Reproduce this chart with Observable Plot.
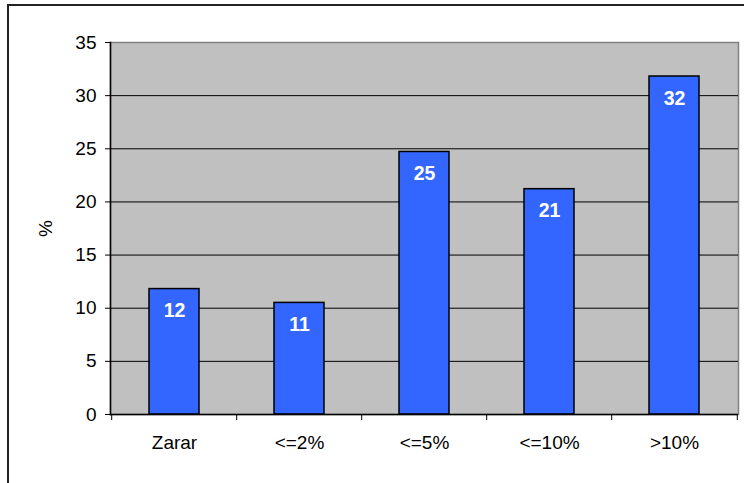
<!DOCTYPE html>
<html>
<head>
<meta charset="utf-8">
<script src="https://cdn.jsdelivr.net/npm/d3@7"></script>
<script src="https://cdn.jsdelivr.net/npm/@observablehq/plot@0.6"></script>
<style>
  html, body { margin: 0; padding: 0; background: #fff; }
  #wrap { position: relative; width: 744px; height: 483px; overflow: hidden; }
  #border { position: absolute; left: 7px; top: 4px; width: 800px; height: 600px; border: 2px solid #222; box-sizing: border-box; pointer-events: none; }
  #chart { position: absolute; left: 0; top: 0; }
</style>
</head>
<body>
<div id="wrap"><div id="chart"></div><div id="border"></div></div>
<script>
const categories = ["Zarar", "<=2%", "<=5%", "<=10%", ">10%"];
const values = [11.8, 10.5, 24.7, 21.2, 31.8];
const valueLabels = ["12", "11", "25", "21", "32"];
const yTicks = [0, 5, 10, 15, 20, 25, 30, 35];
const gridTicks = [5, 10, 15, 20, 25, 30];

const data = categories.map((c, i) => ({cat: c, value: values[i], label: valueLabels[i]}));

const W = 744, H = 483, mL = 110, mR = 6, mT = 42, mB = 69;
const step = (W - mL - mR) / categories.length;

const chart = Plot.plot({
  width: W,
  height: H,
  marginLeft: mL,
  marginRight: mR,
  marginTop: mT,
  marginBottom: mB,
  style: {fontFamily: "'Liberation Sans', Arial, sans-serif", fontSize: "19px", color: "#000", background: "transparent"},
  x: {domain: categories, paddingInner: 0.6, paddingOuter: 0.3, label: null},
  y: {domain: [0, 35], label: null},
  marks: [
    Plot.frame({fill: "#c0c0c0", stroke: "#808080", strokeWidth: 1.5}),
    Plot.ruleY(gridTicks, {stroke: "#000", strokeWidth: 1}),
    Plot.barY(data, {x: "cat", y: "value", fill: "#3366ff", stroke: "#000", strokeWidth: 1.5}),
    Plot.text(data, {x: "cat", y: "value", text: "label", fill: "#fff", fontWeight: "bold", fontSize: 19.5, dy: 22, lineAnchor: "middle"}),
    Plot.ruleY([0], {stroke: "#000", strokeWidth: 1.5}),
    Plot.frame({anchor: "left", stroke: "#000", strokeWidth: 1.5}),
    Plot.axisY(yTicks, {tickSize: 5, tickPadding: 9, label: "%", labelAnchor: "center", labelArrow: "none", labelOffset: 72, fontSize: 19, stroke: "#000"}),
    Plot.axisX(categories, {tickSize: 6, dx: -step / 2, text: null, label: null}),
    Plot.axisX([categories[categories.length - 1]], {tickSize: 6, dx: step / 2, text: null, label: null}),
    Plot.axisX(categories, {tickSize: 0, tickPadding: 21, label: null, fontSize: 19})
  ]
});
document.getElementById("chart").appendChild(chart);
</script>
</body>
</html>
